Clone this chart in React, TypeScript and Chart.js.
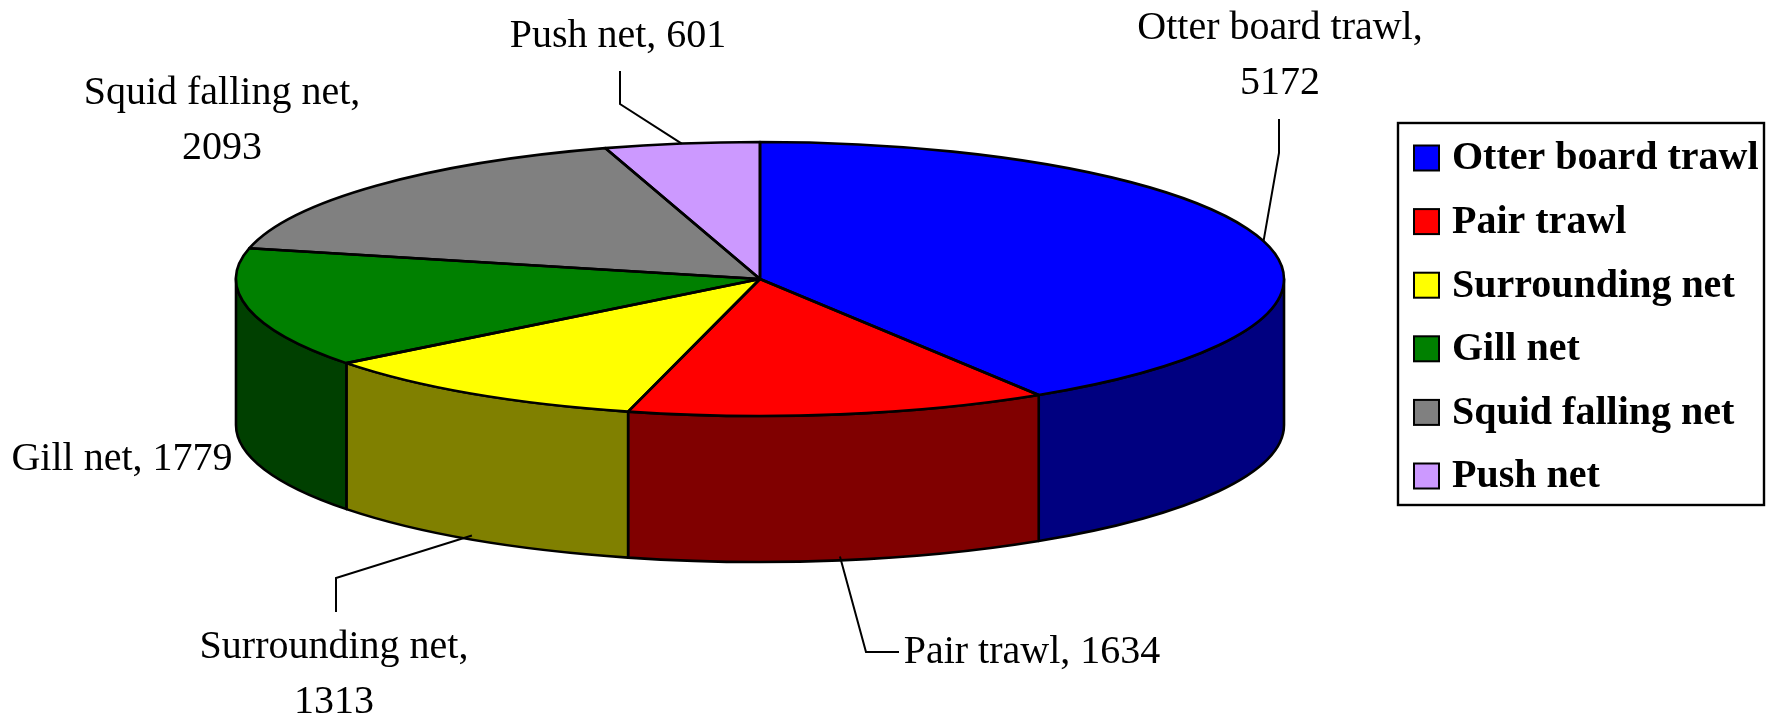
import React, { useEffect, useRef } from "react";
import { Chart, registerables } from "chart.js";

Chart.register(...registerables);

// ---- data ----
const categories = [
  "Otter board trawl",
  "Pair trawl",
  "Surrounding net",
  "Gill net",
  "Squid falling net",
  "Push net",
];
const values = [5172, 1634, 1313, 1779, 2093, 601];
const topColors = ["#0000FF", "#FF0000", "#FFFF00", "#008000", "#808080", "#CC99FF"];
const sideColors = ["#000080", "#800000", "#808000", "#004000", "#404040", "#664C80"];

// ---- layout (not data) ----
const PIE = { cx: 760, cy: 279, rx: 524, ry: 137, depth: 146 };
// label text anchor (center x, first-line y), whether name/value split onto two lines,
// and the leader-line path from the slice to the label (elbow then end)
const labelLayout = [
  { x: 1280, y: 28, twoLine: true, leader: [[1279, 153], [1279, 119]] },
  { x: 1032, y: 652, twoLine: false, leader: [[866, 652], [899, 652]] },
  { x: 334, y: 647, twoLine: true, leader: [[336, 578], [336, 612]] },
  { x: 122, y: 459, twoLine: false, leader: null },
  { x: 222, y: 93, twoLine: true, leader: null },
  { x: 618, y: 36, twoLine: false, leader: [[620, 104], [620, 71]] },
];
const LEGEND = { left: 1398, top: 123, right: 1764, bottom: 505, swatchX: 1414, swatch: 25, textX: 1452, firstY: 158, step: 63.6 };
const EDGE = 2.6;

const pie3d = {
  id: "pie3d",
  beforeDatasetsDraw(chart: any) {
    const ctx = chart.ctx;
    const arcs = chart.getDatasetMeta(0).data;
    if (!arcs.length) return;
    const { cx, cy, rx, ry, depth } = PIE;
    // side walls (front half only: canvas angles 0..PI)
    ctx.save();
    ctx.lineWidth = EDGE;
    ctx.strokeStyle = "#000";
    ctx.lineJoin = "round";
    arcs.forEach((a: any, i: number) => {
      const s = Math.max(a.startAngle, 0);
      const e = Math.min(a.endAngle, Math.PI);
      if (e <= s) return;
      ctx.beginPath();
      ctx.ellipse(cx, cy, rx, ry, 0, s, e, false);
      ctx.lineTo(cx + rx * Math.cos(e), cy + depth + ry * Math.sin(e));
      ctx.ellipse(cx, cy + depth, rx, ry, 0, e, s, true);
      ctx.closePath();
      ctx.fillStyle = sideColors[i];
      ctx.fill();
      ctx.stroke();
    });
    ctx.restore();
    // map the library's circular pie onto the tilted ellipse
    const a0 = arcs[0];
    const R = a0.outerRadius;
    ctx.save();
    ctx.translate(cx, cy);
    ctx.scale(rx / R, ry / R);
    ctx.translate(-a0.x, -a0.y);
  },
  afterDatasetsDraw(chart: any) {
    const ctx = chart.ctx;
    ctx.restore();
    const arcs = chart.getDatasetMeta(0).data;
    const { cx, cy, rx, ry } = PIE;
    ctx.save();
    ctx.lineWidth = EDGE;
    ctx.strokeStyle = "#000";
    ctx.lineJoin = "round";
    arcs.forEach((a: any) => {
      ctx.beginPath();
      ctx.moveTo(cx, cy);
      ctx.ellipse(cx, cy, rx, ry, 0, a.startAngle, a.endAngle, false);
      ctx.closePath();
      ctx.stroke();
    });
    ctx.restore();
  },
  afterDraw(chart: any) {
    const ctx = chart.ctx;
    const arcs = chart.getDatasetMeta(0).data;
    const labels = chart.data.labels;
    const vals = chart.data.datasets[0].data;
    const { cx, cy, rx, ry, depth } = PIE;
    ctx.save();
    // data labels + leader lines
    ctx.fillStyle = "#000";
    ctx.strokeStyle = "#000";
    ctx.lineWidth = 2;
    ctx.font = '40px "Liberation Serif"';
    ctx.textAlign = "center";
    ctx.textBaseline = "middle";
    arcs.forEach((a: any, i: number) => {
      const L = labelLayout[i];
      if (L.twoLine) {
        ctx.fillText(labels[i] + ",", L.x, L.y);
        ctx.fillText(String(vals[i]), L.x, L.y + 55);
      } else {
        ctx.fillText(labels[i] + ", " + vals[i], L.x, L.y);
      }
      if (L.leader) {
        const mid = (a.startAngle + a.endAngle) / 2;
        const px = cx + rx * Math.cos(mid);
        const py = cy + ry * Math.sin(mid) + (Math.sin(mid) > 0 ? depth - 4 : 0);
        ctx.beginPath();
        ctx.moveTo(px, py);
        ctx.lineTo(L.leader[0][0], L.leader[0][1]);
        ctx.lineTo(L.leader[1][0], L.leader[1][1]);
        ctx.stroke();
      }
    });
    // legend with border
    ctx.lineWidth = 2.4;
    ctx.strokeRect(LEGEND.left, LEGEND.top, LEGEND.right - LEGEND.left, LEGEND.bottom - LEGEND.top);
    ctx.font = 'bold 40px "Liberation Serif"';
    ctx.textAlign = "left";
    ctx.lineWidth = 2;
    labels.forEach((lab: string, i: number) => {
      const y = LEGEND.firstY + i * LEGEND.step;
      ctx.fillStyle = topColors[i];
      ctx.fillRect(LEGEND.swatchX, y - LEGEND.swatch / 2, LEGEND.swatch, LEGEND.swatch);
      ctx.strokeRect(LEGEND.swatchX, y - LEGEND.swatch / 2, LEGEND.swatch, LEGEND.swatch);
      ctx.fillStyle = "#000";
      ctx.fillText(lab, LEGEND.textX, y + 1);
    });
    ctx.restore();
  },
};

export default function App() {
  const ref = useRef<HTMLCanvasElement | null>(null);
  useEffect(() => {
    if (!ref.current) return;
    const chart = new Chart(ref.current, {
      type: "pie",
      data: {
        labels: categories,
        datasets: [
          {
            data: values,
            backgroundColor: topColors,
            borderWidth: 0,
          },
        ],
      },
      options: {
        animation: false,
        responsive: false,
        maintainAspectRatio: false,
        devicePixelRatio: 1,
        events: [],
        layout: { padding: 20 },
        plugins: {
          legend: { display: false },
          tooltip: { enabled: false },
        },
      },
      plugins: [pie3d],
    });
    return () => chart.destroy();
  }, []);
  return (
    <div style={{ position: "absolute", left: 0, top: 0, width: 1772, height: 720, background: "#fff" }}>
      <canvas ref={ref} width={1772} height={720} style={{ display: "block" }} />
    </div>
  );
}
